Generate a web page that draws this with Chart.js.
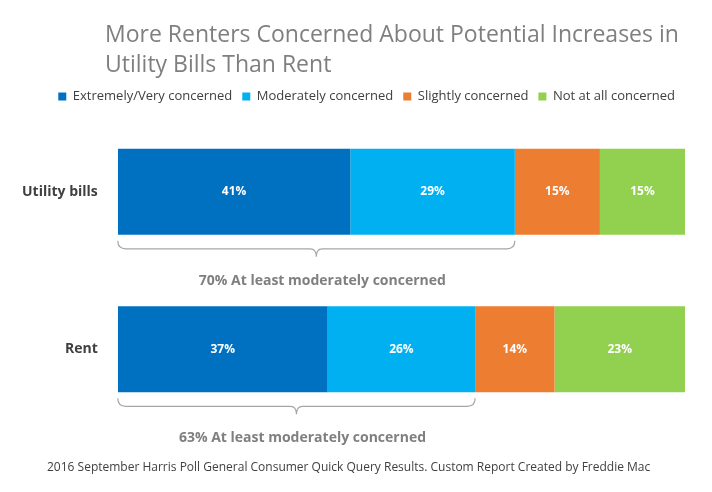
<!DOCTYPE html>
<html><head><meta charset="utf-8">
<script src="https://cdn.jsdelivr.net/npm/chart.js@4/dist/chart.umd.min.js"></script>
<style>body{margin:0;background:#fff}#wrap{width:712px;height:492px}</style>
</head><body><div id="wrap"><canvas id="c"></canvas></div>
<script>
const categories = ['Utility bills', 'Rent'];
const seriesNames = ['Extremely/Very concerned', 'Moderately concerned', 'Slightly concerned', 'Not at all concerned'];
const extremely = [41, 37];
const moderately = [29, 26];
const slightly = [15, 14];
const notAtAll = [15, 23];
const bracketLabels = ['70% At least moderately concerned', '63% At least moderately concerned'];
const colors = ['#0070C0', '#00B0F0', '#ED7D31', '#92D050'];

const font = '"Open Sans", "Liberation Sans", Arial, sans-serif';

// title, footnote, value labels and brackets
const decor = {
    id: 'decor',
    afterDraw(chart) {
        const ctx = chart.ctx;
        const x = chart.scales.x, y = chart.scales.y;
        ctx.save();
        ctx.fillStyle = '#7f7f7f';
        ctx.font = '23px ' + font;
        ctx.textBaseline = 'alphabetic';
        ctx.textAlign = 'left';
        ctx.fillText('More Renters Concerned About Potential Increases in', 105, 42);
        ctx.fillText('Utility Bills Than Rent', 105, 72);
        ctx.fillStyle = '#404040';
        ctx.font = '12px ' + font;
        ctx.fillText('2016 September Harris Poll General Consumer Quick Query Results. Custom Report Created by Freddie Mac', 47, 471);

        // value labels
        ctx.textAlign = 'center';
        ctx.textBaseline = 'middle';
        ctx.font = 'bold 12px ' + font;
        ctx.fillStyle = '#fff';
        chart.data.datasets.forEach((ds, di) => {
            chart.getDatasetMeta(di).data.forEach((bar, i) => {
                ctx.fillText(ds.data[i] + '%', (bar.x + bar.base) / 2, bar.y);
            });
        });

        // brackets under first two segments
        categories.forEach((c, i) => {
            const bar = chart.getDatasetMeta(0).data[i];
            const yb = bar.y + bar.height / 2 + 6;
            const x0 = x.getPixelForValue(0);
            const x1 = x.getPixelForValue(extremely[i] + moderately[i]);
            const xm = (x0 + x1) / 2;
            ctx.strokeStyle = '#a6a6a6';
            ctx.lineWidth = 1.2;
            ctx.beginPath();
            ctx.moveTo(x0, yb);
            ctx.quadraticCurveTo(x0, yb + 8, x0 + 8, yb + 8);
            ctx.lineTo(xm - 6, yb + 8);
            ctx.quadraticCurveTo(xm, yb + 8, xm, yb + 16);
            ctx.quadraticCurveTo(xm, yb + 8, xm + 6, yb + 8);
            ctx.lineTo(x1 - 8, yb + 8);
            ctx.quadraticCurveTo(x1, yb + 8, x1, yb);
            ctx.stroke();
            ctx.fillStyle = '#7f7f7f';
            ctx.font = 'bold 14px ' + font;
            ctx.fillText(bracketLabels[i], xm + 6, yb + 40);
        });
        ctx.restore();
    }
};

new Chart(document.getElementById('c'), {
    type: 'bar',
    data: {
        labels: categories,
        datasets: [extremely, moderately, slightly, notAtAll].map((d, i) => ({
            label: seriesNames[i],
            data: d,
            backgroundColor: colors[i],
            borderWidth: 0,
            categoryPercentage: 0.547,
            barPercentage: 1
        }))
    },
    options: {
        indexAxis: 'y',
        responsive: true,
        maintainAspectRatio: false,
        animation: false,
        layout: { padding: { top: 80, right: 27, bottom: 64, left: 10 } },
        scales: {
            x: { stacked: true, min: 0, max: 100, display: false },
            y: {
                stacked: true,
                grid: { display: false },
                border: { display: false },
                ticks: { color: '#404040', font: { family: font, size: 14, weight: 'bold' }, padding: 12 }
            }
        },
        plugins: {
            legend: {
                position: 'top',
                align: 'end',
                labels: {
                    boxWidth: 8, boxHeight: 8, padding: 10,
                    color: '#404040',
                    font: { family: font, size: 13 }
                }
            },
            tooltip: { enabled: false }
        }
    },
    plugins: [decor]
});
</script></body></html>
